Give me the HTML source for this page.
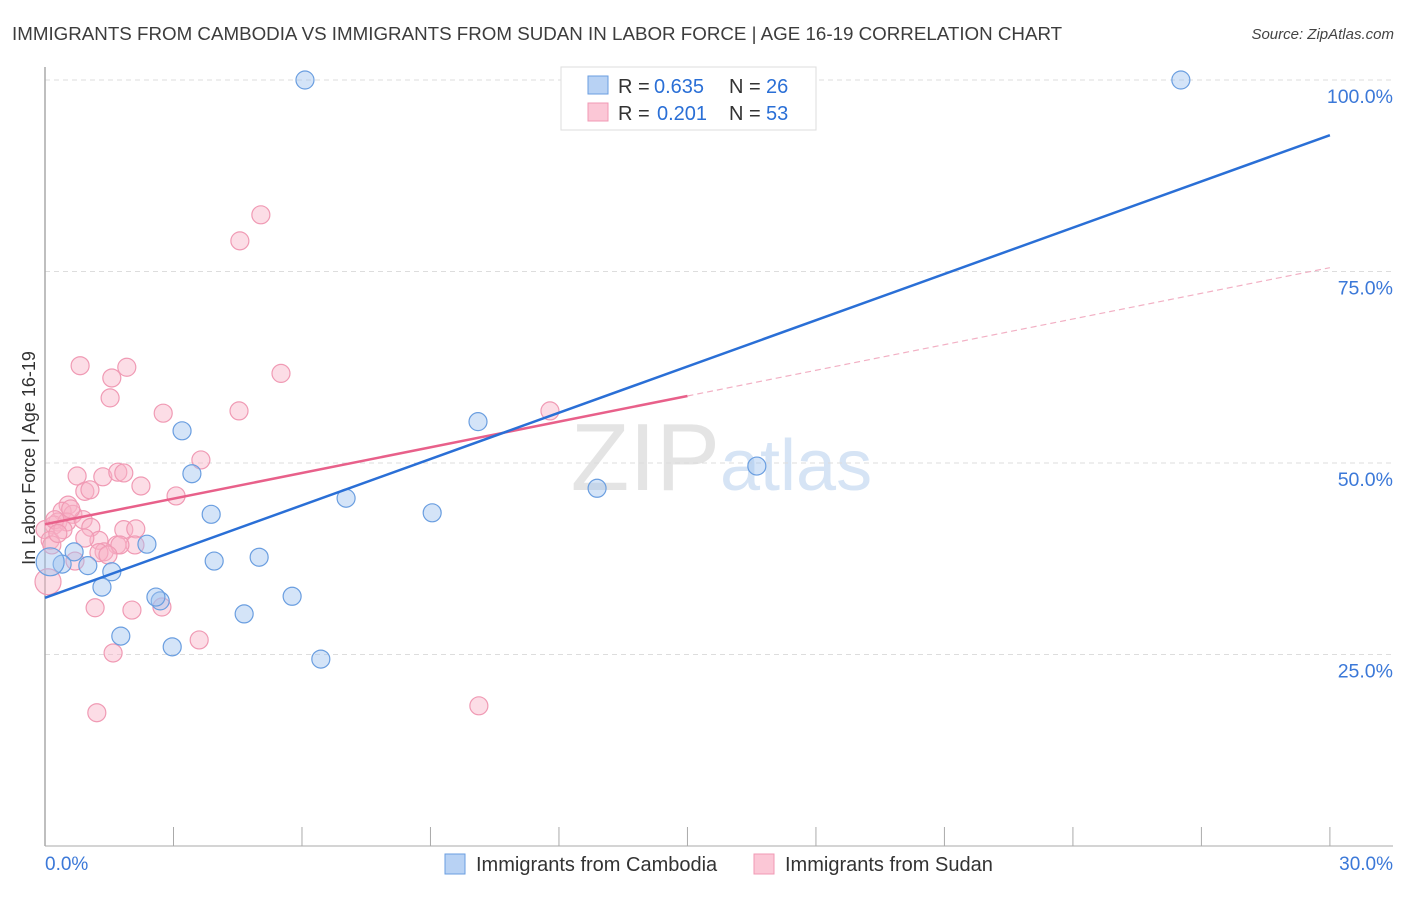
<!DOCTYPE html>
<html><head><meta charset="utf-8"><style>
body{margin:0;background:#fff;font-family:"Liberation Sans",sans-serif;}
svg text{font-family:"Liberation Sans",sans-serif;}
</style></head><body>
<svg id="chart" width="1406" height="892">
<text x="12" y="40" font-size="18.75" fill="#3c3c3c">IMMIGRANTS FROM CAMBODIA VS IMMIGRANTS FROM SUDAN IN LABOR FORCE | AGE 16-19 CORRELATION CHART</text>
<text x="1394" y="39" font-size="15" font-style="italic" fill="#444" text-anchor="end">Source: ZipAtlas.com</text>
<text x="35" y="458" font-size="18" fill="#333" text-anchor="middle" transform="rotate(-90 35 458)">In Labor Force | Age 16-19</text>
<text x="720" y="490" font-size="96" fill="#e4e4e4" text-anchor="end" font-family="Liberation Serif">ZIP</text>
<text x="720" y="490" font-size="72" fill="#d6e4f5">atlas</text>
<g id="grid"></g><g id="axes"></g><g id="marks"></g><g id="lines"></g>
<g>
<rect x="561" y="67" width="255" height="63" fill="#fff" stroke="#ddd"/>
<rect x="588" y="76" width="20" height="18" fill="#b8d2f4" stroke="#6a9ee0"/>
<rect x="588" y="103" width="20" height="18" fill="#fbc7d6" stroke="#f09ab4"/>
<text x="618" y="93" font-size="20" fill="#333">R =</text>
<text x="654" y="93" font-size="20" fill="#2a6fd6">0.635</text>
<text x="729" y="93" font-size="20" fill="#333">N =</text>
<text x="766" y="93" font-size="20" fill="#2a6fd6">26</text>
<text x="618" y="120" font-size="20" fill="#333">R =</text>
<text x="657" y="120" font-size="20" fill="#2a6fd6">0.201</text>
<text x="729" y="120" font-size="20" fill="#333">N =</text>
<text x="766" y="120" font-size="20" fill="#2a6fd6">53</text>
</g>
<g>
<rect x="445" y="854" width="20" height="20" fill="#b8d2f4" stroke="#6a9ee0"/>
<text x="476" y="871" font-size="20" fill="#333">Immigrants from Cambodia</text>
<rect x="754" y="854" width="20" height="20" fill="#fbc7d6" stroke="#f09ab4"/>
<text x="785" y="871" font-size="20" fill="#333">Immigrants from Sudan</text>
</g>
</svg>
<script>
const yTicks=[25,50,75,100];
const yTickLabels=["25.0%","50.0%","75.0%","100.0%"];
const xTickVals=[0,3,6,9,12,15,18,21,24,27,30];
const cambodiaX=[6.07,26.52,3.20,3.43,10.11,7.03,3.88,9.04,16.62,12.89,2.38,0.68,1.00,0.40,0.12,1.56,3.95,5.00,1.33,2.69,2.59,5.77,4.65,1.77,2.97,6.44];
const cambodiaY=[100,100,54.2,48.6,55.4,45.4,43.3,43.5,49.6,46.7,39.4,38.4,36.6,36.8,37.1,35.8,37.2,37.7,33.8,32.0,32.5,32.6,30.3,27.4,26.0,24.4];
const sudanX=[5.04,4.55,0.82,1.91,1.56,5.51,1.52,2.76,4.53,11.79,3.64,0.75,1.35,1.70,1.84,2.24,0.93,1.05,3.06,0.54,0.40,0.65,0.30,0.21,0,0.51,0.89,1.07,0.23,0.12,1.26,0.93,1.84,2.12,1.68,1.38,2.10,0.70,1.26,1.75,1.17,2.03,2.73,1.59,3.60,1.21,10.13,0.07,0.16,1.47,0.42,0.6,0.3];
const sudanY=[82.4,79.0,62.7,62.5,61.1,61.7,58.5,56.5,56.8,56.8,50.4,48.3,48.2,48.8,48.7,47.0,46.3,46.5,45.7,44.5,43.7,43.3,42.3,41.9,41.3,42.3,42.6,41.6,42.6,39.9,39.9,40.2,41.3,41.4,39.3,38.4,39.3,37.2,38.3,39.3,31.1,30.8,31.2,25.2,26.9,17.4,18.3,34.5,39.3,38.0,41.3,44.0,40.8];
const cambodiaTrend=[32.4,92.8];
const sudanTrend=[42.0,75.5];
const sudanSolidEnd=15;
const X=v=>45+v*42.83, Y=v=>846-v*7.66;
const NS="http://www.w3.org/2000/svg";
function mk(tag,attrs,parent){const e=document.createElementNS(NS,tag);for(const k in attrs)e.setAttribute(k,attrs[k]);document.getElementById(parent).appendChild(e);return e;}
yTicks.forEach((t,i)=>{
 const g=mk('line',{x1:45,x2:1393,y1:Y(t),y2:Y(t),stroke:'#ddd','stroke-dasharray':'5,4'},'grid');
 
 
 const l=mk('text',{x:1393,y:Y(t)+23,'font-size':19.5,fill:'#3b78d8','text-anchor':'end'},'grid');l.textContent=yTickLabels[i];
 
 
});
const ax=mk('line',{x1:45,x2:45,y1:67,y2:846,stroke:'#aaa','stroke-width':1.5},'axes');


const bx=mk('line',{x1:45,x2:1393,y1:846,y2:846,stroke:'#aaa','stroke-width':1},'axes');


xTickVals.forEach(v=>{const t=mk('line',{x1:X(v),x2:X(v),y1:827,y2:846,stroke:'#aaa'},'axes');
 
 });
const x0=mk('text',{x:45,y:870,'font-size':19,fill:'#3b78d8'},'axes');x0.textContent='0.0%';


const x1=mk('text',{x:1393,y:870,'font-size':19,fill:'#3b78d8','text-anchor':'end'},'axes');x1.textContent='30.0%';


sudanX.forEach((v,i)=>{const c=mk('circle',{cx:X(v),cy:Y(sudanY[i]),r:(i==47?13:9),fill:'rgba(248,180,200,0.45)',stroke:'#f09ab4','stroke-width':1.2},'marks');
 
 });
cambodiaX.forEach((v,i)=>{const c=mk('circle',{cx:X(v),cy:Y(cambodiaY[i]),r:(i==14?14:9),fill:'rgba(160,196,240,0.45)',stroke:'#6a9ee0','stroke-width':1.2},'marks');
 
 });
const sAt=v=>sudanTrend[0]+(sudanTrend[1]-sudanTrend[0])*v/30;
const ps=mk('line',{x1:X(0),y1:Y(sudanTrend[0]),x2:X(sudanSolidEnd),y2:Y(sAt(sudanSolidEnd)),stroke:'#e8608a','stroke-width':2.5},'lines');


const pd=mk('line',{x1:X(sudanSolidEnd),y1:Y(sAt(sudanSolidEnd)),x2:X(30),y2:Y(sudanTrend[1]),stroke:'#f2b0c4','stroke-width':1.2,'stroke-dasharray':'6,4'},'lines');


const bl=mk('line',{x1:X(0),y1:Y(cambodiaTrend[0]),x2:X(30),y2:Y(cambodiaTrend[1]),stroke:'#2a6fd6','stroke-width':2.5},'lines');


</script>
</body></html>
